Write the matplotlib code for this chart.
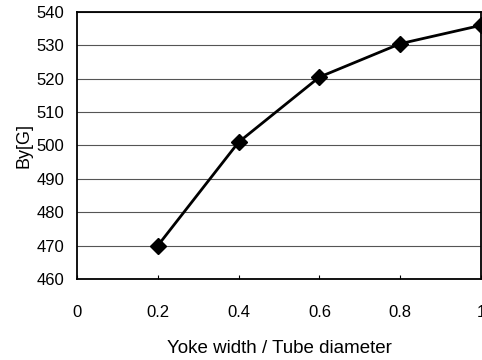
import matplotlib
matplotlib.use("Agg")
import matplotlib.pyplot as plt

plt.rcParams['font.family'] = ['Liberation Sans', 'DejaVu Sans']

x_vals = [0.2, 0.4, 0.6, 0.8, 1.0]
by_vals = [470, 501, 520.5, 530.5, 536]
x_ticks = [0, 0.2, 0.4, 0.6, 0.8, 1.0]
x_tick_labels = ["0", "0.2", "0.4", "0.6", "0.8", "1"]
y_ticks = [460, 470, 480, 490, 500, 510, 520, 530, 540]

fig = plt.figure(figsize=(4.82, 3.6), dpi=100)
ax = fig.add_axes([77/482, 1-279/360, 404/482, 267/360])

ax.plot(x_vals, by_vals, color='black', lw=2.0, marker='D', markersize=8,
        markerfacecolor='black', markeredgecolor='black', zorder=3)

ax.set_xlim(0, 1)
ax.set_ylim(460, 540)
ax.set_yticks(y_ticks)
ax.set_xticks(x_ticks)
ax.set_xticklabels(x_tick_labels)
ax.yaxis.grid(True, color='#555555', lw=0.8)
ax.set_axisbelow(True)
for s in ax.spines.values():
    s.set_linewidth(1.3)
    s.set_color('black')

ax.tick_params(axis='x', direction='in', length=3, width=0.8, pad=19, labelsize=12)
ax.tick_params(axis='y', length=0, pad=9, labelsize=12)
ax.set_xlabel("Yoke width / Tube diameter", fontsize=13.5, labelpad=14)
ax.set_ylabel("By[G]", fontsize=13, labelpad=3)

fig.savefig("out.png", dpi=100)
